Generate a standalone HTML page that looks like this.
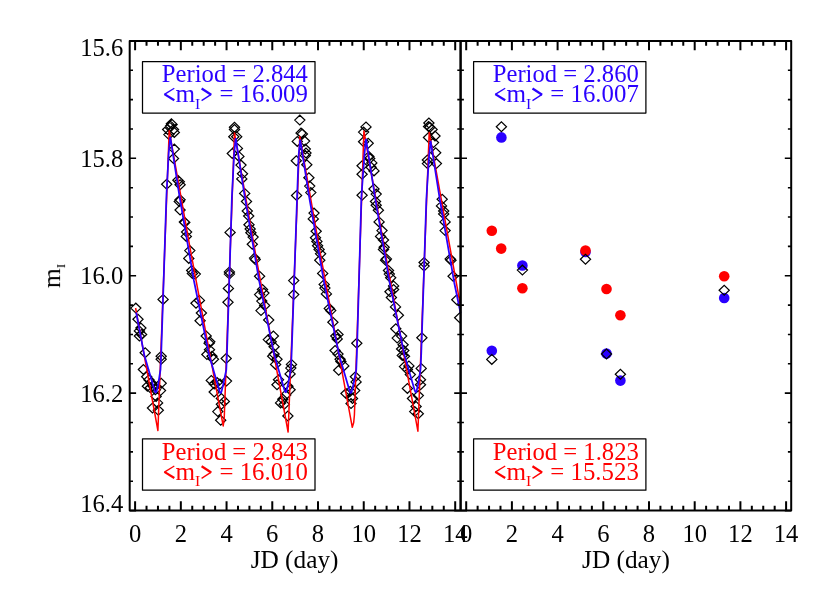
<!DOCTYPE html>
<html><head><meta charset="utf-8"><title>Light curve</title>
<style>html,body{margin:0;padding:0;background:#fff}body{width:830px;height:593px;overflow:hidden;font-family:"Liberation Serif",serif}</style></head>
<body>
<svg width="830" height="593" viewBox="0 0 830 593" style="display:block">
<rect width="830" height="593" fill="#fff"/>
<defs><clipPath id="cl"><rect x="129.7" y="40.9" width="330.9" height="469.7"/></clipPath></defs>
<path clip-path="url(#cl)" d="M166.3 123.7L171.4 118.8L176.5 123.7L171.4 128.6ZM167.0 124.4L172.1 119.5L177.2 124.4L172.1 129.3ZM165.5 125.9L170.6 121.0L175.7 125.9L170.6 130.8ZM164.8 127.3L169.9 122.4L175.0 127.3L169.9 132.2ZM162.6 129.5L167.7 124.6L172.8 129.5L167.7 134.4ZM168.4 129.5L173.5 124.6L178.6 129.5L173.5 134.4ZM169.2 132.4L174.3 127.5L179.4 132.4L174.3 137.3ZM163.8 134.6L168.9 129.7L174.0 134.6L168.9 139.5ZM169.2 149.1L174.3 144.2L179.4 149.1L174.3 154.0ZM168.4 158.5L173.5 153.6L178.6 158.5L173.5 163.4ZM161.6 184.2L166.7 179.3L171.8 184.2L166.7 189.1ZM172.8 180.3L177.9 175.4L183.0 180.3L177.9 185.2ZM174.2 181.8L179.3 176.9L184.4 181.8L179.3 186.7ZM175.0 184.7L180.1 179.8L185.2 184.7L180.1 189.6ZM175.0 199.7L180.1 194.8L185.2 199.7L180.1 204.6ZM174.2 201.5L179.3 196.6L184.4 201.5L179.3 206.4ZM175.0 210.0L180.1 205.1L185.2 210.0L180.1 214.9ZM179.3 221.9L184.4 217.0L189.5 221.9L184.4 226.8ZM179.7 222.6L184.8 217.7L189.9 222.6L184.8 227.5ZM181.5 232.0L186.6 227.1L191.7 232.0L186.6 236.9ZM181.2 236.4L186.3 231.5L191.4 236.4L186.3 241.3ZM184.7 250.6L189.8 245.7L194.9 250.6L189.8 255.5ZM183.7 258.4L188.8 253.5L193.9 258.4L188.8 263.3ZM186.6 270.5L191.7 265.6L196.8 270.5L191.7 275.4ZM187.3 273.4L192.4 268.5L197.5 273.4L192.4 278.3ZM190.2 274.1L195.3 269.2L200.4 274.1L195.3 279.0ZM229.4 127.3L234.5 122.4L239.6 127.3L234.5 132.2ZM229.4 129.5L234.5 124.6L239.6 129.5L234.5 134.4ZM228.7 136.8L233.8 131.9L238.9 136.8L233.8 141.7ZM231.6 136.8L236.7 131.9L241.8 136.8L236.7 141.7ZM227.2 153.5L232.3 148.6L237.4 153.5L232.3 158.4ZM232.3 148.4L237.4 143.5L242.5 148.4L237.4 153.3ZM233.8 156.4L238.9 151.5L244.0 156.4L238.9 161.3ZM235.9 165.1L241.0 160.2L246.1 165.1L241.0 170.0ZM237.4 173.8L242.5 168.9L247.6 173.8L242.5 178.7ZM236.7 178.9L241.8 174.0L246.9 178.9L241.8 183.8ZM239.6 193.4L244.7 188.5L249.8 193.4L244.7 198.3ZM225.0 232.4L230.1 227.5L235.2 232.4L230.1 237.3ZM224.3 271.9L229.4 267.0L234.5 271.9L229.4 276.8ZM224.3 274.1L229.4 269.2L234.5 274.1L229.4 279.0ZM241.4 201.5L246.5 196.6L251.6 201.5L246.5 206.4ZM242.2 211.0L247.3 206.1L252.4 211.0L247.3 215.9ZM243.6 216.0L248.7 211.1L253.8 216.0L248.7 220.9ZM243.9 224.8L249.0 219.9L254.1 224.8L249.0 229.7ZM245.1 229.0L250.2 224.1L255.3 229.0L250.2 233.9ZM245.8 232.7L250.9 227.8L256.0 232.7L250.9 237.6ZM248.0 237.1L253.1 232.2L258.2 237.1L253.1 242.0ZM247.2 244.3L252.3 239.4L257.4 244.3L252.3 249.2ZM249.4 258.1L254.5 253.2L259.6 258.1L254.5 263.0ZM250.1 259.6L255.2 254.7L260.3 259.6L255.2 264.5ZM254.5 276.3L259.6 271.4L264.7 276.3L259.6 281.2ZM130.7 308.1L135.8 303.2L140.9 308.1L135.8 313.0ZM132.9 319.3L138.0 314.4L143.1 319.3L138.0 324.2ZM135.8 328.0L140.9 323.1L146.0 328.0L140.9 332.9ZM134.3 330.9L139.4 326.0L144.5 330.9L139.4 335.8ZM136.5 334.5L141.6 329.6L146.7 334.5L141.6 339.4ZM134.3 336.0L139.4 331.1L144.5 336.0L139.4 340.9ZM140.1 352.7L145.2 347.8L150.3 352.7L145.2 357.6ZM158.0 299.4L163.1 294.5L168.2 299.4L163.1 304.3ZM156.1 356.3L161.2 351.4L166.3 356.3L161.2 361.2ZM156.1 359.2L161.2 354.3L166.3 359.2L161.2 364.1ZM194.3 300.4L199.4 295.5L204.5 300.4L199.4 305.3ZM190.9 303.3L196.0 298.4L201.1 303.3L196.0 308.2ZM196.3 313.0L201.4 308.1L206.5 313.0L201.4 317.9ZM195.0 320.7L200.1 315.8L205.2 320.7L200.1 325.6ZM201.1 336.0L206.2 331.1L211.3 336.0L206.2 340.9ZM204.7 341.8L209.8 336.9L214.9 341.8L209.8 346.7ZM204.0 343.2L209.1 338.3L214.2 343.2L209.1 348.1ZM204.4 349.7L209.5 344.8L214.6 349.7L209.5 354.6ZM201.8 354.5L206.9 349.6L212.0 354.5L206.9 359.4ZM206.9 356.3L212.0 351.4L217.1 356.3L212.0 361.2ZM208.4 359.2L213.5 354.3L218.6 359.2L213.5 364.1ZM223.3 288.4L228.4 283.5L233.5 288.4L228.4 293.3ZM222.9 302.3L228.0 297.4L233.1 302.3L228.0 307.2ZM221.1 358.5L226.2 353.6L231.3 358.5L226.2 363.4ZM138.3 369.5L143.4 364.6L148.5 369.5L143.4 374.4ZM141.6 376.8L146.7 371.9L151.8 376.8L146.7 381.7ZM143.8 379.7L148.9 374.8L154.0 379.7L148.9 384.6ZM145.9 382.6L151.0 377.7L156.1 382.6L151.0 387.5ZM142.3 386.2L147.4 381.3L152.5 386.2L147.4 391.1ZM145.2 387.7L150.3 382.8L155.4 387.7L150.3 392.6ZM148.1 386.2L153.2 381.3L158.3 386.2L153.2 391.1ZM150.3 389.8L155.4 384.9L160.5 389.8L155.4 394.7ZM156.1 383.3L161.2 378.4L166.3 383.3L161.2 388.2ZM155.4 390.6L160.5 385.7L165.6 390.6L160.5 395.5ZM151.0 396.4L156.1 391.5L161.2 396.4L156.1 401.3ZM152.5 402.9L157.6 398.0L162.7 402.9L157.6 407.8ZM147.4 408.0L152.5 403.1L157.6 408.0L152.5 412.9ZM153.2 410.2L158.3 405.3L163.4 410.2L158.3 415.1ZM206.2 380.4L211.3 375.5L216.4 380.4L211.3 385.3ZM209.1 384.0L214.2 379.1L219.3 384.0L214.2 388.9ZM212.0 382.6L217.1 377.7L222.2 382.6L217.1 387.5ZM214.9 384.0L220.0 379.1L225.1 384.0L220.0 388.9ZM221.4 381.1L226.5 376.2L231.6 381.1L226.5 386.0ZM209.1 392.0L214.2 387.1L219.3 392.0L214.2 396.9ZM216.3 398.5L221.4 393.6L226.5 398.5L221.4 403.4ZM219.2 401.4L224.3 396.5L229.4 401.4L224.3 406.3ZM216.3 404.3L221.4 399.4L226.5 404.3L221.4 409.2ZM212.7 411.6L217.8 406.7L222.9 411.6L217.8 416.5ZM215.6 420.3L220.7 415.4L225.8 420.3L220.7 425.2ZM294.7 120.1L299.8 115.2L304.9 120.1L299.8 125.0ZM295.9 133.1L301.0 128.2L306.1 133.1L301.0 138.0ZM297.3 133.9L302.4 129.0L307.5 133.9L302.4 138.8ZM292.2 141.4L297.3 136.5L302.4 141.4L297.3 146.3ZM299.5 141.1L304.6 136.2L309.7 141.1L304.6 146.0ZM300.2 149.1L305.3 144.2L310.4 149.1L305.3 154.0ZM300.9 153.0L306.0 148.1L311.1 153.0L306.0 157.9ZM300.2 155.6L305.3 150.7L310.4 155.6L305.3 160.5ZM291.2 160.7L296.3 155.8L301.4 160.7L296.3 165.6ZM301.7 164.8L306.8 159.9L311.9 164.8L306.8 169.7ZM303.8 177.7L308.9 172.8L314.0 177.7L308.9 182.6ZM304.6 186.1L309.7 181.2L314.8 186.1L309.7 191.0ZM305.7 192.6L310.8 187.7L315.9 192.6L310.8 197.5ZM291.5 195.5L296.6 190.6L301.7 195.5L296.6 200.4ZM288.6 280.6L293.7 275.7L298.8 280.6L293.7 285.5ZM308.9 213.1L314.0 208.2L319.1 213.1L314.0 218.0ZM308.2 218.9L313.3 214.0L318.4 218.9L313.3 223.8ZM311.1 231.3L316.2 226.4L321.3 231.3L316.2 236.2ZM310.4 237.8L315.5 232.9L320.6 237.8L315.5 242.7ZM311.8 241.4L316.9 236.5L322.0 241.4L316.9 246.3ZM312.5 245.8L317.6 240.9L322.7 245.8L317.6 250.7ZM314.0 249.4L319.1 244.5L324.2 249.4L319.1 254.3ZM315.5 253.8L320.6 248.9L325.7 253.8L320.6 258.7ZM314.7 260.3L319.8 255.4L324.9 260.3L319.8 265.2ZM317.6 273.4L322.7 268.5L327.8 273.4L322.7 278.3ZM257.4 289.5L262.5 284.6L267.6 289.5L262.5 294.4ZM258.8 293.1L263.9 288.2L269.0 293.1L263.9 298.0ZM254.5 294.6L259.6 289.7L264.7 294.6L259.6 299.5ZM256.7 301.1L261.8 296.2L266.9 301.1L261.8 306.0ZM259.6 305.5L264.7 300.6L269.8 305.5L264.7 310.4ZM255.9 310.6L261.0 305.7L266.1 310.6L261.0 315.5ZM263.6 320.0L268.7 315.1L273.8 320.0L268.7 324.9ZM268.3 336.0L273.4 331.1L278.5 336.0L273.4 340.9ZM263.2 339.6L268.3 334.7L273.4 339.6L268.3 344.5ZM266.1 341.8L271.2 336.9L276.3 341.8L271.2 346.7ZM269.0 346.8L274.1 341.9L279.2 346.8L274.1 351.7ZM269.0 354.1L274.1 349.2L279.2 354.1L274.1 359.0ZM267.6 356.3L272.7 351.4L277.8 356.3L272.7 361.2ZM271.9 359.2L277.0 354.3L282.1 359.2L277.0 364.1ZM288.6 294.6L293.7 289.7L298.8 294.6L293.7 299.5ZM319.1 284.4L324.2 279.5L329.3 284.4L324.2 289.3ZM319.8 288.1L324.9 283.2L330.0 288.1L324.9 293.0ZM321.3 293.9L326.4 289.0L331.5 293.9L326.4 298.8ZM324.2 308.4L329.3 303.5L334.4 308.4L329.3 313.3ZM325.6 310.6L330.7 305.7L335.8 310.6L330.7 315.5ZM327.8 322.2L332.9 317.3L338.0 322.2L332.9 327.1ZM330.7 336.0L335.8 331.1L340.9 336.0L335.8 340.9ZM332.9 334.5L338.0 329.6L343.1 334.5L338.0 339.4ZM332.1 338.9L337.2 334.0L342.3 338.9L337.2 343.8ZM330.0 350.5L335.1 345.6L340.2 350.5L335.1 355.4ZM332.9 354.1L338.0 349.2L343.1 354.1L338.0 359.0ZM335.0 359.2L340.1 354.3L345.2 359.2L340.1 364.1ZM351.7 343.2L356.8 338.3L361.9 343.2L356.8 348.1ZM270.5 364.4L275.6 359.5L280.7 364.4L275.6 369.3ZM286.4 364.4L291.5 359.5L296.6 364.4L291.5 369.3ZM285.7 368.1L290.8 363.2L295.9 368.1L290.8 373.0ZM285.0 373.9L290.1 369.0L295.2 373.9L290.1 378.8ZM273.4 379.7L278.5 374.8L283.6 379.7L278.5 384.6ZM271.9 384.8L277.0 379.9L282.1 384.8L277.0 389.7ZM282.8 386.2L287.9 381.3L293.0 386.2L287.9 391.1ZM285.0 389.8L290.1 384.9L295.2 389.8L290.1 394.7ZM280.6 394.9L285.7 390.0L290.8 394.9L285.7 399.8ZM277.7 399.3L282.8 394.4L287.9 399.3L282.8 404.2ZM275.5 402.9L280.6 398.0L285.7 402.9L280.6 407.8ZM279.2 404.3L284.3 399.4L289.4 404.3L284.3 409.2ZM282.8 416.0L287.9 411.1L293.0 416.0L287.9 420.9ZM335.8 361.5L340.9 356.6L346.0 361.5L340.9 366.4ZM338.7 365.9L343.8 361.0L348.9 365.9L343.8 370.8ZM333.6 370.2L338.7 365.3L343.8 370.2L338.7 375.1ZM350.3 376.8L355.4 371.9L360.5 376.8L355.4 381.7ZM351.0 381.9L356.1 377.0L361.2 381.9L356.1 386.8ZM340.9 393.5L346.0 388.6L351.1 393.5L346.0 398.4ZM345.2 391.3L350.3 386.4L355.4 391.3L350.3 396.2ZM349.6 390.6L354.7 385.7L359.8 390.6L354.7 395.5ZM345.9 397.1L351.0 392.2L356.1 397.1L351.0 402.0ZM347.4 398.5L352.5 393.6L357.6 398.5L352.5 403.4ZM345.9 403.6L351.0 398.7L356.1 403.6L351.0 408.5ZM360.9 126.9L366.0 122.0L371.1 126.9L366.0 131.8ZM358.5 132.1L363.6 127.2L368.7 132.1L363.6 137.0ZM358.5 141.8L363.6 136.9L368.7 141.8L363.6 146.7ZM363.1 143.3L368.2 138.4L373.3 143.3L368.2 148.2ZM363.8 156.4L368.9 151.5L374.0 156.4L368.9 161.3ZM364.6 158.5L369.7 153.6L374.8 158.5L369.7 163.4ZM366.7 162.9L371.8 158.0L376.9 162.9L371.8 167.8ZM357.0 165.8L362.1 160.9L367.2 165.8L362.1 170.7ZM366.0 167.2L371.1 162.3L376.2 167.2L371.1 172.1ZM368.9 170.9L374.0 166.0L379.1 170.9L374.0 175.8ZM357.0 174.2L362.1 169.3L367.2 174.2L362.1 179.1ZM368.9 189.0L374.0 184.1L379.1 189.0L374.0 193.9ZM371.1 194.1L376.2 189.2L381.3 194.1L376.2 199.0ZM357.0 195.3L362.1 190.4L367.2 195.3L362.1 200.2ZM423.8 123.0L428.9 118.1L434.0 123.0L428.9 127.9ZM423.4 126.6L428.5 121.7L433.6 126.6L428.5 131.5ZM424.8 127.3L429.9 122.4L435.0 127.3L429.9 132.2ZM427.0 129.5L432.1 124.6L437.2 129.5L432.1 134.4ZM429.9 136.0L435.0 131.1L440.1 136.0L435.0 140.9ZM423.4 137.5L428.5 132.6L433.6 137.5L428.5 142.4ZM428.4 142.6L433.5 137.7L438.6 142.6L433.5 147.5ZM430.6 152.7L435.7 147.8L440.8 152.7L435.7 157.6ZM422.3 160.0L427.4 155.1L432.5 160.0L427.4 164.9ZM422.3 163.6L427.4 158.7L432.5 163.6L427.4 168.5ZM431.3 163.6L436.4 158.7L441.5 163.6L436.4 168.5ZM437.1 199.2L442.2 194.3L447.3 199.2L442.2 204.1ZM370.4 201.5L375.5 196.6L380.6 201.5L375.5 206.4ZM371.1 205.2L376.2 200.3L381.3 205.2L376.2 210.1ZM373.3 210.2L378.4 205.3L383.5 210.2L378.4 215.1ZM374.0 221.9L379.1 217.0L384.2 221.9L379.1 226.8ZM376.9 230.6L382.0 225.7L387.1 230.6L382.0 235.5ZM375.5 236.4L380.6 231.5L385.7 236.4L380.6 241.3ZM378.4 240.0L383.5 235.1L388.6 240.0L383.5 244.9ZM379.1 247.2L384.2 242.3L389.3 247.2L384.2 252.1ZM378.4 249.4L383.5 244.5L388.6 249.4L383.5 254.3ZM381.3 258.9L386.4 254.0L391.5 258.9L386.4 263.8ZM380.5 260.3L385.6 255.4L390.7 260.3L385.6 265.2ZM383.4 270.5L388.5 265.6L393.6 270.5L388.5 275.4ZM384.2 274.1L389.3 269.2L394.4 274.1L389.3 279.0ZM385.6 277.7L390.7 272.8L395.8 277.7L390.7 282.6ZM419.0 262.5L424.1 257.6L429.2 262.5L424.1 267.4ZM419.0 266.1L424.1 261.2L429.2 266.1L424.1 271.0ZM436.4 205.9L441.5 201.0L446.6 205.9L441.5 210.8ZM438.6 211.0L443.7 206.1L448.8 211.0L443.7 215.9ZM438.6 213.9L443.7 209.0L448.8 213.9L443.7 218.8ZM440.0 221.9L445.1 217.0L450.2 221.9L445.1 226.8ZM440.0 230.6L445.1 225.7L450.2 230.6L445.1 235.5ZM445.1 258.9L450.2 254.0L455.3 258.9L450.2 263.8ZM445.9 260.3L451.0 255.4L456.1 260.3L451.0 265.2ZM448.0 276.3L453.1 271.4L458.2 276.3L453.1 281.2ZM388.5 285.9L393.6 281.0L398.7 285.9L393.6 290.8ZM388.5 289.5L393.6 284.6L398.7 289.5L393.6 294.4ZM384.9 291.7L390.0 286.8L395.1 291.7L390.0 296.6ZM386.3 297.5L391.4 292.6L396.5 297.5L391.4 302.4ZM390.4 306.9L395.5 302.0L400.6 306.9L395.5 311.8ZM393.3 315.3L398.4 310.4L403.5 315.3L398.4 320.2ZM390.7 328.7L395.8 323.8L400.9 328.7L395.8 333.6ZM396.5 336.0L401.6 331.1L406.7 336.0L401.6 340.9ZM392.1 338.1L397.2 333.2L402.3 338.1L397.2 343.0ZM398.0 344.7L403.1 339.8L408.2 344.7L403.1 349.6ZM396.5 349.0L401.6 344.1L406.7 349.0L401.6 353.9ZM398.7 350.5L403.8 345.6L408.9 350.5L403.8 355.4ZM397.2 355.5L402.3 350.6L407.4 355.5L402.3 360.4ZM399.4 356.3L404.5 351.4L409.6 356.3L404.5 361.2ZM416.8 337.7L421.9 332.8L427.0 337.7L421.9 342.6ZM451.7 299.7L456.8 294.8L461.9 299.7L456.8 304.6ZM454.6 317.8L459.7 312.9L464.8 317.8L459.7 322.7ZM403.8 365.9L408.9 361.0L414.0 365.9L408.9 370.8ZM399.4 366.6L404.5 361.7L409.6 366.6L404.5 371.5ZM402.3 369.5L407.4 364.6L412.5 369.5L407.4 374.4ZM405.2 374.6L410.3 369.7L415.4 374.6L410.3 379.5ZM402.3 388.4L407.4 383.5L412.5 388.4L407.4 393.3ZM407.4 398.5L412.5 393.6L417.6 398.5L412.5 403.4ZM409.6 411.6L414.7 406.7L419.8 411.6L414.7 416.5ZM411.0 406.5L416.1 401.6L421.2 406.5L416.1 411.4ZM413.2 413.8L418.3 408.9L423.4 413.8L418.3 418.7ZM413.2 395.6L418.3 390.7L423.4 395.6L418.3 400.5ZM415.4 384.8L420.5 379.9L425.6 384.8L420.5 389.7ZM415.4 379.7L420.5 374.8L425.6 379.7L420.5 384.6ZM416.1 368.4L421.2 363.5L426.3 368.4L421.2 373.3Z" fill="none" stroke="#000" stroke-width="1.2"/>
<path d="M135.6 308.0L157.9 430.5L169.2 130.7L190.2 248.8L223.2 425.9L224.2 419.0L234.5 133.1L255.3 252.7L288.1 432.0L299.8 136.5L320.2 252.8L352.3 427.3L353.7 422.5L354.4 415.0L354.8 404.0L363.9 131.0L384.9 251.1L417.9 431.2L429.2 132.4L460.6 306.3" fill="none" stroke="#ff0000" stroke-width="1.5" stroke-linejoin="round"/>
<path d="M136.20 312.50L144.17 354.57L154.63 390.67Q155.80 394.70 156.76 390.61L158.30 384.00L160.50 369.50L161.15 355.00L163.63 281.00L166.48 194.80L168.70 152.80L170.30 136.80L179.30 195.00L194.00 281.00L209.10 355.00L219.54 391.16Q220.70 395.20 221.66 391.11L223.20 384.50L226.27 370.00L226.89 355.50L229.25 281.50L231.93 196.20L234.10 154.20L235.70 138.20L244.63 195.90L259.21 281.16L274.19 354.53L284.54 390.36Q285.70 394.40 286.66 390.31L288.20 383.70L290.89 369.20L291.56 354.70L294.19 280.70L297.08 197.70L298.60 155.70L300.20 139.70L309.25 197.24L324.04 282.27L339.23 355.43L349.72 391.17Q350.90 395.20 351.86 391.11L353.40 384.50L356.23 370.00L356.82 355.50L358.98 281.50L361.40 196.90L364.40 154.90L366.00 138.90L374.89 196.44L389.42 281.47L404.34 354.63L414.64 390.36Q415.80 394.40 416.76 390.31L418.30 383.70L420.54 369.20L421.19 354.70L423.69 280.70L426.39 198.80L429.00 156.80L430.60 140.80L439.57 197.98L454.22 282.47L460.60 313.29" fill="none" stroke="#2a00ff" stroke-width="1.75" stroke-linejoin="bevel"/>
<circle cx="501.4" cy="137.4" r="5.3" fill="#2a00ff"/>
<circle cx="522.4" cy="265.5" r="5.3" fill="#2a00ff"/>
<circle cx="585.5" cy="252.0" r="5.3" fill="#2a00ff"/>
<circle cx="491.8" cy="350.7" r="5.3" fill="#2a00ff"/>
<circle cx="606.5" cy="353.6" r="5.3" fill="#2a00ff"/>
<circle cx="620.4" cy="380.6" r="5.3" fill="#2a00ff"/>
<circle cx="724.2" cy="298.0" r="5.3" fill="#2a00ff"/>
<circle cx="491.8" cy="230.8" r="5.3" fill="#ff0000"/>
<circle cx="501.2" cy="248.6" r="5.3" fill="#ff0000"/>
<circle cx="522.4" cy="288.3" r="5.3" fill="#ff0000"/>
<circle cx="585.5" cy="250.5" r="5.3" fill="#ff0000"/>
<circle cx="606.5" cy="289.0" r="5.3" fill="#ff0000"/>
<circle cx="620.4" cy="315.3" r="5.3" fill="#ff0000"/>
<circle cx="724.2" cy="276.3" r="5.3" fill="#ff0000"/>
<path d="M496.3 126.8L501.4 121.9L506.5 126.8L501.4 131.7ZM517.3 270.1L522.4 265.2L527.5 270.1L522.4 275.0ZM580.4 259.2L585.5 254.3L590.6 259.2L585.5 264.1ZM486.7 359.4L491.8 354.5L496.9 359.4L491.8 364.3ZM601.4 354.0L606.5 349.1L611.6 354.0L606.5 358.9ZM615.3 374.2L620.4 369.3L625.5 374.2L620.4 379.1ZM719.1 290.3L724.2 285.4L729.3 290.3L724.2 295.2Z" fill="none" stroke="#000" stroke-width="1.2"/>
<path d="M135.10 510.6V501.20M135.10 40.9V50.30M146.53 510.6V505.80M146.53 40.9V45.70M157.96 510.6V505.80M157.96 40.9V45.70M169.40 510.6V505.80M169.40 40.9V45.70M180.83 510.6V501.20M180.83 40.9V50.30M192.26 510.6V505.80M192.26 40.9V45.70M203.69 510.6V505.80M203.69 40.9V45.70M215.12 510.6V505.80M215.12 40.9V45.70M226.56 510.6V501.20M226.56 40.9V50.30M237.99 510.6V505.80M237.99 40.9V45.70M249.42 510.6V505.80M249.42 40.9V45.70M260.85 510.6V505.80M260.85 40.9V45.70M272.28 510.6V501.20M272.28 40.9V50.30M283.72 510.6V505.80M283.72 40.9V45.70M295.15 510.6V505.80M295.15 40.9V45.70M306.58 510.6V505.80M306.58 40.9V45.70M318.01 510.6V501.20M318.01 40.9V50.30M329.44 510.6V505.80M329.44 40.9V45.70M340.88 510.6V505.80M340.88 40.9V45.70M352.31 510.6V505.80M352.31 40.9V45.70M363.74 510.6V501.20M363.74 40.9V50.30M375.17 510.6V505.80M375.17 40.9V45.70M386.60 510.6V505.80M386.60 40.9V45.70M398.04 510.6V505.80M398.04 40.9V45.70M409.47 510.6V501.20M409.47 40.9V50.30M420.90 510.6V505.80M420.90 40.9V45.70M432.33 510.6V505.80M432.33 40.9V45.70M443.76 510.6V505.80M443.76 40.9V45.70M455.20 510.6V501.20M455.20 40.9V50.30M466.20 510.6V501.20M466.20 40.9V50.30M477.62 510.6V505.80M477.62 40.9V45.70M489.05 510.6V505.80M489.05 40.9V45.70M500.48 510.6V505.80M500.48 40.9V45.70M511.90 510.6V501.20M511.90 40.9V50.30M523.33 510.6V505.80M523.33 40.9V45.70M534.75 510.6V505.80M534.75 40.9V45.70M546.17 510.6V505.80M546.17 40.9V45.70M557.60 510.6V501.20M557.60 40.9V50.30M569.02 510.6V505.80M569.02 40.9V45.70M580.45 510.6V505.80M580.45 40.9V45.70M591.88 510.6V505.80M591.88 40.9V45.70M603.30 510.6V501.20M603.30 40.9V50.30M614.73 510.6V505.80M614.73 40.9V45.70M626.15 510.6V505.80M626.15 40.9V45.70M637.58 510.6V505.80M637.58 40.9V45.70M649.00 510.6V501.20M649.00 40.9V50.30M660.42 510.6V505.80M660.42 40.9V45.70M671.85 510.6V505.80M671.85 40.9V45.70M683.27 510.6V505.80M683.27 40.9V45.70M694.70 510.6V501.20M694.70 40.9V50.30M706.12 510.6V505.80M706.12 40.9V45.70M717.55 510.6V505.80M717.55 40.9V45.70M728.98 510.6V505.80M728.98 40.9V45.70M740.40 510.6V501.20M740.40 40.9V50.30M751.83 510.6V505.80M751.83 40.9V45.70M763.25 510.6V505.80M763.25 40.9V45.70M774.67 510.6V505.80M774.67 40.9V45.70M786.10 510.6V501.20M786.10 40.9V50.30" fill="none" stroke="#000" stroke-width="2"/>
<path d="M129.7 40.90H136.10M454.20 40.90H467.00M791.2 40.90H784.80M129.7 70.26H133.00M457.30 70.26H463.90M791.2 70.26H787.90M129.7 99.61H133.00M457.30 99.61H463.90M791.2 99.61H787.90M129.7 128.97H133.00M457.30 128.97H463.90M791.2 128.97H787.90M129.7 158.32H136.10M454.20 158.32H467.00M791.2 158.32H784.80M129.7 187.68H133.00M457.30 187.68H463.90M791.2 187.68H787.90M129.7 217.03H133.00M457.30 217.03H463.90M791.2 217.03H787.90M129.7 246.38H133.00M457.30 246.38H463.90M791.2 246.38H787.90M129.7 275.74H136.10M454.20 275.74H467.00M791.2 275.74H784.80M129.7 305.10H133.00M457.30 305.10H463.90M791.2 305.10H787.90M129.7 334.45H133.00M457.30 334.45H463.90M791.2 334.45H787.90M129.7 363.80H133.00M457.30 363.80H463.90M791.2 363.80H787.90M129.7 393.16H136.10M454.20 393.16H467.00M791.2 393.16H784.80M129.7 422.52H133.00M457.30 422.52H463.90M791.2 422.52H787.90M129.7 451.87H133.00M457.30 451.87H463.90M791.2 451.87H787.90M129.7 481.23H133.00M457.30 481.23H463.90M791.2 481.23H787.90M129.7 510.58H136.10M454.20 510.58H467.00M791.2 510.58H784.80" fill="none" stroke="#000" stroke-width="1.6"/>
<path d="M129.7 40.9H791.2V510.6H129.7Z" fill="none" stroke="#000" stroke-width="2.0" stroke-linejoin="round"/>
<path d="M460.6 40.9V510.6" fill="none" stroke="#000" stroke-width="2.5"/>
<rect x="142.5" y="61.5" width="172.5" height="51.5" fill="#fff" stroke="#000" stroke-width="1.25" stroke-linejoin="round"/>
<rect x="142.5" y="438.75" width="172.5" height="51.4" fill="#fff" stroke="#000" stroke-width="1.25" stroke-linejoin="round"/>
<rect x="473.6" y="61.5" width="172.3" height="51.5" fill="#fff" stroke="#000" stroke-width="1.25" stroke-linejoin="round"/>
<rect x="473.6" y="438.75" width="172.3" height="51.4" fill="#fff" stroke="#000" stroke-width="1.25" stroke-linejoin="round"/>
<g font-family="'Liberation Serif', serif" style="opacity:0.999">
<text transform="translate(307.90,81.95) scale(1.019,1)" text-anchor="end" fill="#2a00ff" font-size="24.2">Period = 2.844</text><text transform="translate(307.90,102.20) scale(1.026,1)" text-anchor="end" fill="#2a00ff" font-size="24.2">= 16.009</text><text transform="translate(175.60,102.20) scale(1.04,1)" fill="#2a00ff" font-size="24.2">m</text><text transform="translate(197.70,108.60) scale(1.1,1)" text-anchor="middle" fill="#2a00ff" font-size="14.2">I</text><path d="M174.30 88.20L164.40 94.40" stroke="#2a00ff" stroke-width="1.3"/><path d="M164.40 94.10L174.30 100.30" stroke="#2a00ff" stroke-width="2.3"/><path d="M201.60 88.50L211.20 94.70" stroke="#2a00ff" stroke-width="2.3"/><path d="M211.20 94.40L201.60 100.60" stroke="#2a00ff" stroke-width="1.3"/>
<text transform="translate(307.90,459.70) scale(1.019,1)" text-anchor="end" fill="#ff0000" font-size="24.2">Period = 2.843</text><text transform="translate(307.90,479.95) scale(1.026,1)" text-anchor="end" fill="#ff0000" font-size="24.2">= 16.010</text><text transform="translate(175.60,479.95) scale(1.04,1)" fill="#ff0000" font-size="24.2">m</text><text transform="translate(197.70,486.35) scale(1.1,1)" text-anchor="middle" fill="#ff0000" font-size="14.2">I</text><path d="M174.30 465.95L164.40 472.15" stroke="#ff0000" stroke-width="1.3"/><path d="M164.40 471.85L174.30 478.05" stroke="#ff0000" stroke-width="2.3"/><path d="M201.60 466.25L211.20 472.45" stroke="#ff0000" stroke-width="2.3"/><path d="M211.20 472.15L201.60 478.35" stroke="#ff0000" stroke-width="1.3"/>
<text transform="translate(638.80,81.95) scale(1.019,1)" text-anchor="end" fill="#2a00ff" font-size="24.2">Period = 2.860</text><text transform="translate(638.80,102.20) scale(1.026,1)" text-anchor="end" fill="#2a00ff" font-size="24.2">= 16.007</text><text transform="translate(506.50,102.20) scale(1.04,1)" fill="#2a00ff" font-size="24.2">m</text><text transform="translate(528.60,108.60) scale(1.1,1)" text-anchor="middle" fill="#2a00ff" font-size="14.2">I</text><path d="M505.20 88.20L495.30 94.40" stroke="#2a00ff" stroke-width="1.3"/><path d="M495.30 94.10L505.20 100.30" stroke="#2a00ff" stroke-width="2.3"/><path d="M532.50 88.50L542.10 94.70" stroke="#2a00ff" stroke-width="2.3"/><path d="M542.10 94.40L532.50 100.60" stroke="#2a00ff" stroke-width="1.3"/>
<text transform="translate(638.80,459.70) scale(1.019,1)" text-anchor="end" fill="#ff0000" font-size="24.2">Period = 1.823</text><text transform="translate(638.80,479.95) scale(1.026,1)" text-anchor="end" fill="#ff0000" font-size="24.2">= 15.523</text><text transform="translate(506.50,479.95) scale(1.04,1)" fill="#ff0000" font-size="24.2">m</text><text transform="translate(528.60,486.35) scale(1.1,1)" text-anchor="middle" fill="#ff0000" font-size="14.2">I</text><path d="M505.20 465.95L495.30 472.15" stroke="#ff0000" stroke-width="1.3"/><path d="M495.30 471.85L505.20 478.05" stroke="#ff0000" stroke-width="2.3"/><path d="M532.50 466.25L542.10 472.45" stroke="#ff0000" stroke-width="2.3"/><path d="M542.10 472.15L532.50 478.35" stroke="#ff0000" stroke-width="1.3"/>
<text transform="translate(135.10,542.2) scale(0.985,1)" text-anchor="middle" font-size="25.0">0</text>
<text transform="translate(180.83,542.2) scale(0.985,1)" text-anchor="middle" font-size="25.0">2</text>
<text transform="translate(226.56,542.2) scale(0.985,1)" text-anchor="middle" font-size="25.0">4</text>
<text transform="translate(272.28,542.2) scale(0.985,1)" text-anchor="middle" font-size="25.0">6</text>
<text transform="translate(318.01,542.2) scale(0.985,1)" text-anchor="middle" font-size="25.0">8</text>
<text transform="translate(363.74,542.2) scale(0.985,1)" text-anchor="middle" font-size="25.0">10</text>
<text transform="translate(409.47,542.2) scale(0.985,1)" text-anchor="middle" font-size="25.0">12</text>
<text transform="translate(455.20,542.2) scale(0.985,1)" text-anchor="middle" font-size="25.0">14</text>
<text transform="translate(466.20,542.2) scale(0.985,1)" text-anchor="middle" font-size="25.0">0</text>
<text transform="translate(511.90,542.2) scale(0.985,1)" text-anchor="middle" font-size="25.0">2</text>
<text transform="translate(557.60,542.2) scale(0.985,1)" text-anchor="middle" font-size="25.0">4</text>
<text transform="translate(603.30,542.2) scale(0.985,1)" text-anchor="middle" font-size="25.0">6</text>
<text transform="translate(649.00,542.2) scale(0.985,1)" text-anchor="middle" font-size="25.0">8</text>
<text transform="translate(694.70,542.2) scale(0.985,1)" text-anchor="middle" font-size="25.0">10</text>
<text transform="translate(740.40,542.2) scale(0.985,1)" text-anchor="middle" font-size="25.0">12</text>
<text transform="translate(786.10,542.2) scale(0.985,1)" text-anchor="middle" font-size="25.0">14</text>
<text transform="translate(123.3,55.5) scale(0.985,1)" text-anchor="end" font-size="25.0">15.6</text>
<text transform="translate(123.3,167.0) scale(0.985,1)" text-anchor="end" font-size="25.0">15.8</text>
<text transform="translate(123.3,284.4) scale(0.985,1)" text-anchor="end" font-size="25.0">16.0</text>
<text transform="translate(123.3,401.6) scale(0.985,1)" text-anchor="end" font-size="25.0">16.2</text>
<text transform="translate(123.3,511.5) scale(0.985,1)" text-anchor="end" font-size="25.0">16.4</text>
<text transform="translate(294.6,568.3) scale(1.034,1)" text-anchor="middle" font-size="24.5">JD (day)</text>
<text transform="translate(626.0,568.3) scale(1.034,1)" text-anchor="middle" font-size="24.5">JD (day)</text>
<text transform="translate(60.1,288.1) rotate(-90) scale(1.04,1)" font-size="24.5">m<tspan font-size="13.4" dy="5.4">I</tspan></text>
</g>
</svg>
</body></html>
